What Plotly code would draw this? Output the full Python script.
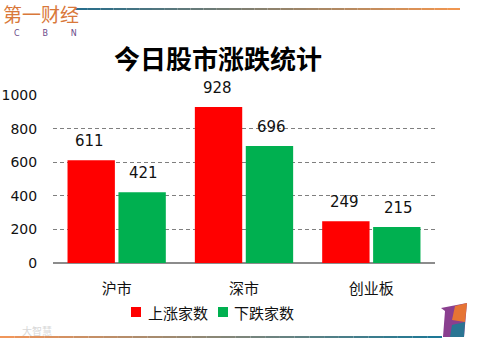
import plotly.graph_objects as go

categories = ["沪市", "深市", "创业板"]
up_counts = [611, 928, 249]
down_counts = [421, 696, 215]
series_names = ["上涨家数", "下跌家数"]
series_colors = ["#FF0000", "#00B050"]
y_ticks = [0, 200, 400, 600, 800, 1000]
title_text = "今日股市涨跌统计"

W, H = 477, 348
L, R, T, B = 53, 435, 95, 263

def px(x):
    return (x - L) / (R - L)

def py(y):
    return (B - y) / (B - T)

CJK = "Noto Sans CJK SC, sans-serif"
NUM = "Verdana, DejaVu Sans, sans-serif"

fig = go.Figure()
fig.add_trace(go.Bar(x=categories, y=up_counts, name=series_names[0],
                     marker_color=series_colors[0], marker_line_width=0))
fig.add_trace(go.Bar(x=categories, y=down_counts, name=series_names[1],
                     marker_color=series_colors[1], marker_line_width=0))

annotations = []
for vals, shift in ((up_counts, -27), (down_counts, 27)):
    for c, v in zip(categories, vals):
        annotations.append(dict(x=c, y=v, xref="x", yref="y", text=str(v), showarrow=False,
                                xshift=shift, yshift=19, yanchor="middle",
                                font=dict(family=NUM, size=15, color="#111")))

shapes = []
leg_sq = [(131, 141), (218, 228)]
leg_tx = [146, 232]
for name, col, (a, b), tx in zip(series_names, series_colors, leg_sq, leg_tx):
    shapes.append(dict(type="rect", xref="paper", yref="paper", x0=px(a), x1=px(b),
                       y0=py(317), y1=py(307), fillcolor=col, line=dict(width=0)))
    annotations.append(dict(text=name, xref="paper", yref="paper", x=px(tx), y=py(312),
                            xanchor="left", yanchor="middle", showarrow=False,
                            font=dict(family=CJK, size=15, color="#111")))

n = 30
x0, x1 = 75, 460
for i in range(n):
    a = x0 + (x1 - x0) * i / n
    b = x0 + (x1 - x0) * (i + 1) / n
    t = i / (n - 1)
    c = "rgb(%d,%d,%d)" % (int(40 + t * 200), int(110 + t * 40), int(140 - t * 60))
    shapes.append(dict(type="line", xref="paper", yref="paper", x0=px(a), x1=px(b),
                       y0=py(9), y1=py(9), line=dict(color=c, width=2)))
x0, x1 = 0, 442
for i in range(n):
    a = x0 + (x1 - x0) * i / n
    b = x0 + (x1 - x0) * (i + 1) / n
    t = i / (n - 1)
    c = "rgb(%d,%d,%d)" % (int(240 - t * 210), int(150 - t * 30), int(90 + t * 60))
    shapes.append(dict(type="line", xref="paper", yref="paper", x0=px(a), x1=px(b),
                       y0=py(337), y1=py(337), line=dict(color=c, width=2)))
path = "M %f,%f L %f,%f L %f,%f L %f,%f L %f,%f Z" % (
    px(443), py(337), px(445), py(311), px(441), py(308), px(467), py(303), px(464), py(337))
shapes.append(dict(type="path", xref="paper", yref="paper", path=path,
                   fillcolor="#8a3f8f", line=dict(width=0)))
path2 = "M %f,%f L %f,%f L %f,%f L %f,%f Z" % (
    px(452), py(320), px(455), py(306), px(467), py(303), px(465), py(322))
shapes.append(dict(type="path", xref="paper", yref="paper", path=path2,
                   fillcolor="#f07a2a", line=dict(width=0), opacity=0.9))
path3 = "M %f,%f L %f,%f L %f,%f L %f,%f Z" % (
    px(450), py(337), px(452), py(325), px(465), py(322), px(464), py(337))
shapes.append(dict(type="path", xref="paper", yref="paper", path=path3,
                   fillcolor="#1f7b94", line=dict(width=0), opacity=0.9))

annotations += [
    dict(text="第一财经", xref="paper", yref="paper", x=px(1), y=py(14),
         xanchor="left", yanchor="middle", showarrow=False,
         font=dict(family=CJK, size=19, color="#d9783a")),
    dict(text="C         B         N", xref="paper", yref="paper", x=px(12), y=py(34),
         xanchor="left", yanchor="middle", showarrow=False,
         font=dict(family=NUM, size=8, color="#6a4a8a")),
    dict(text="大智慧", xref="paper", yref="paper", x=px(20), y=py(330),
         xanchor="left", yanchor="middle", showarrow=False,
         font=dict(family=CJK, size=10, color="#d8d8d8")),
]

fig.update_layout(
    width=W, height=H,
    margin=dict(l=L, r=W - R, t=T, b=H - B, pad=0, autoexpand=False),
    paper_bgcolor="white", plot_bgcolor="white",
    barmode="group", bargap=0.2, bargroupgap=0.07, showlegend=False,
    title=dict(text="<b>" + title_text + "</b>", x=218 / W, xanchor="center",
               y=1 - 60 / H, yanchor="middle", yref="container",
               font=dict(family=CJK, size=26, color="black")),
    shapes=shapes, annotations=annotations,
    font=dict(family=NUM, color="#111"),
)
fig.update_xaxes(showgrid=False, showline=False, ticks="outside", ticklen=12, automargin=False,
                 tickcolor="rgba(0,0,0,0)", tickfont=dict(family=CJK, size=15, color="#111"))
fig.update_yaxes(range=[0, 1000], tickvals=y_ticks, showgrid=True, gridcolor="#7f7f7f",
                 griddash="4px,3px", gridwidth=1, zeroline=True, zerolinecolor="#8c8c8c",
                 zerolinewidth=1.5, showline=False, ticks="outside", ticklen=12, automargin=False,
                 tickcolor="rgba(0,0,0,0)", tickfont=dict(family=NUM, size=14, color="#111"))

fig.write_html("out.html")
